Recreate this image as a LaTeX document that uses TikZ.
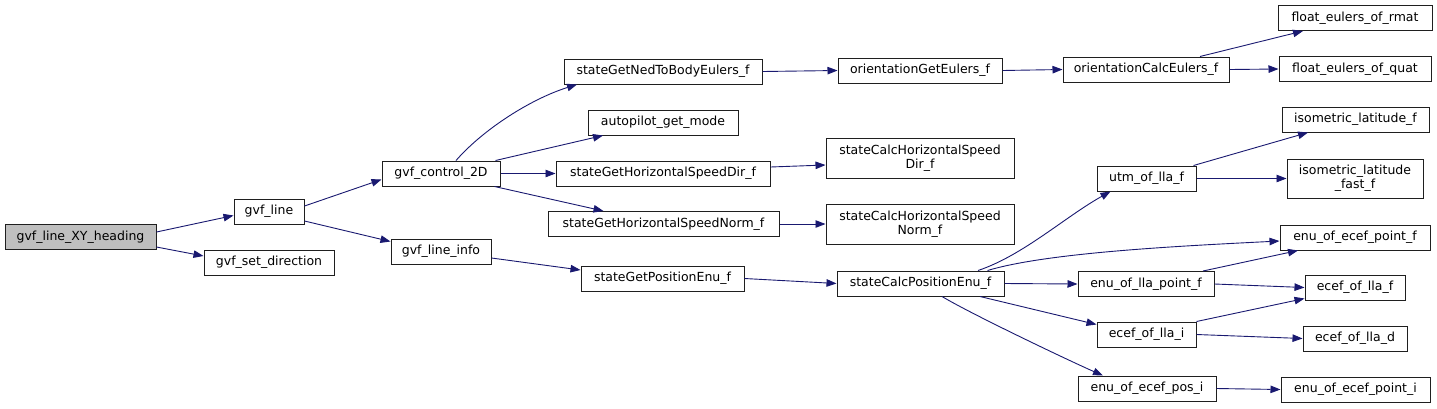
\documentclass[tikz,border=0pt]{standalone}
\usepackage{fontspec}
\setmainfont{DejaVu Sans}
\usetikzlibrary{arrows.meta}
\definecolor{edgeblue}{HTML}{191970}
\definecolor{boxgray}{HTML}{BFBFBF}
\begin{document}
\begin{tikzpicture}[x=1pt,y=-1pt,
  fn/.style={draw=black!88, line width=1pt, fill=white, inner sep=0pt, align=center,
    font=\fontsize{12.5}{14}\selectfont, minimum height=25pt},
  fn2/.style={fn, minimum height=40pt},
  call/.style={draw=edgeblue, line width=0.9pt, -{Triangle[length=10pt,width=7.5pt,fill=edgeblue]}}]
\useasboundingbox (0,0) rectangle (1437,408);

% column 1
\node[fn, minimum width=151pt, fill=boxgray] (head) at (80.5,237) {gvf\_line\_XY\_heading};
% column 2
\node[fn, minimum width=70pt] (line) at (269,211.5) {gvf\_line};
\node[fn, minimum width=130pt] (setdir) at (269,262.5) {gvf\_set\_direction};
% column 3
\node[fn, minimum width=118pt] (ctl) at (441,173.5) {gvf\_control\_2D};
\node[fn, minimum width=100pt] (info) at (441,251.5) {gvf\_line\_info};
% column 4
\node[fn, minimum width=198pt] (ned) at (663,71.5) {stateGetNedToBodyEulers\_f};
\node[fn, minimum width=150pt] (ap) at (663,122.5) {autopilot\_get\_mode};
\node[fn, minimum width=214pt] (sdir) at (663,173.5) {stateGetHorizontalSpeedDir\_f};
\node[fn, minimum width=231pt] (snorm) at (663.5,224) {stateGetHorizontalSpeedNorm\_f};
\node[fn, minimum width=163pt] (gpos) at (662.5,278.5) {stateGetPositionEnu\_f};
% column 5
\node[fn, minimum width=164pt] (oget) at (920,70.5) {orientationGetEulers\_f};
\node[fn2, minimum width=188pt] (cdir) at (920,158) {stateCalcHorizontalSpeed\\Dir\_f};
\node[fn2, minimum width=188pt] (cnorm) at (920,224) {stateCalcHorizontalSpeed\\Norm\_f};
\node[fn, minimum width=167pt] (cpos) at (920.5,283.5) {stateCalcPositionEnu\_f};
% column 6
\node[fn, minimum width=166pt] (ocalc) at (1146,69.5) {orientationCalcEulers\_f};
\node[fn, minimum width=99pt] (utm) at (1146.5,178.5) {utm\_of\_lla\_f};
\node[fn, minimum width=136pt] (enulla) at (1146,284) {enu\_of\_lla\_point\_f};
\node[fn, minimum width=99pt] (ecefi) at (1146.5,334.5) {ecef\_of\_lla\_i};
\node[fn, minimum width=138pt] (enupos) at (1147,388.5) {enu\_of\_ecef\_pos\_i};
% column 7
\node[fn, minimum width=154pt] (rmat) at (1355,18) {float\_eulers\_of\_rmat};
\node[fn, minimum width=152pt] (quat) at (1355,69) {float\_eulers\_of\_quat};
\node[fn, minimum width=147pt] (isof) at (1355.5,119.5) {isometric\_latitude\_f};
\node[fn2, minimum width=136pt, minimum height=39pt] (isofast) at (1355,178.5) {isometric\_latitude\\\_fast\_f};
\node[fn, minimum width=150pt] (enuptf) at (1355,237.5) {enu\_of\_ecef\_point\_f};
\node[fn, minimum width=100pt] (eceff) at (1355,287.5) {ecef\_of\_lla\_f};
\node[fn, minimum width=104pt] (ecefd) at (1355,338.5) {ecef\_of\_lla\_d};
\node[fn, minimum width=149pt] (enupti) at (1355.5,389.5) {enu\_of\_ecef\_point\_i};

% edges
\draw[call] ([yshift=5pt]head.east) -- ([yshift=-4pt]line.west);
\draw[call] ([yshift=-10pt]head.east) -- ([yshift=6.5pt]setdir.west);
\draw[call] ([yshift=5.5pt]line.east) -- ([yshift=-6pt]ctl.west);
\draw[call] ([yshift=-9.5pt]line.east) -- ([yshift=10pt]info.west);
\draw[call] ([xshift=15pt]ctl.north) .. controls +(28,-32) and +(-45,14) .. ([xshift=-86pt]ned.south);
\draw[call] ([xshift=-5pt]ctl.north east) -- ([xshift=-60pt]ap.south);
\draw[call] (ctl.east) -- (sdir.west);
\draw[call] ([xshift=-6pt]ctl.south east) -- ([xshift=-60pt]snorm.north);
\draw[call] ([yshift=-6.5pt]info.east) -- ([yshift=8.5pt]gpos.west);
\draw[call] (ned.east) -- (oget.west);
\draw[call] (oget.east) -- (ocalc.west);
\draw[call] ([xshift=54pt]ocalc.north) -- ([xshift=-52pt]rmat.south);
\draw[call] (ocalc.east) -- (quat.west);
\draw[call] ([yshift=6.5pt]sdir.east) -- ([yshift=-7pt]cdir.west);
\draw[call] (snorm.east) -- (cnorm.west);
\draw[call] (gpos.east) -- (cpos.west);
\draw[call] ([xshift=57.5pt]cpos.north) .. controls +(45,-15) and +(-45,25) .. ([xshift=-36pt]utm.south);
\draw[call] ([xshift=67pt]cpos.north) .. controls +(60,-18) and +(-100,5) .. ([yshift=-3.5pt]enuptf.west);
\draw[call] (cpos.east) -- (enulla.west);
\draw[call] ([xshift=59.5pt]cpos.south) -- ([yshift=10pt]ecefi.west);
\draw[call] ([xshift=21.5pt]cpos.south) .. controls +(30,18) and +(-30,-13) .. ([xshift=-44pt]enupos.north);
\draw[call] ([xshift=-3pt]utm.north east) -- ([xshift=-47.5pt]isof.south);
\draw[call] (utm.east) -- (isofast.west);
\draw[call] ([xshift=57pt]enulla.north) -- ([xshift=-57pt]enuptf.south);
\draw[call] (enulla.east) -- (eceff.west);
\draw[call] (ecefi.north east) -- ([yshift=2pt]eceff.south west);
\draw[call] (ecefi.east) -- (ecefd.west);
\draw[call] (enupos.east) -- (enupti.west);
\end{tikzpicture}
\end{document}
